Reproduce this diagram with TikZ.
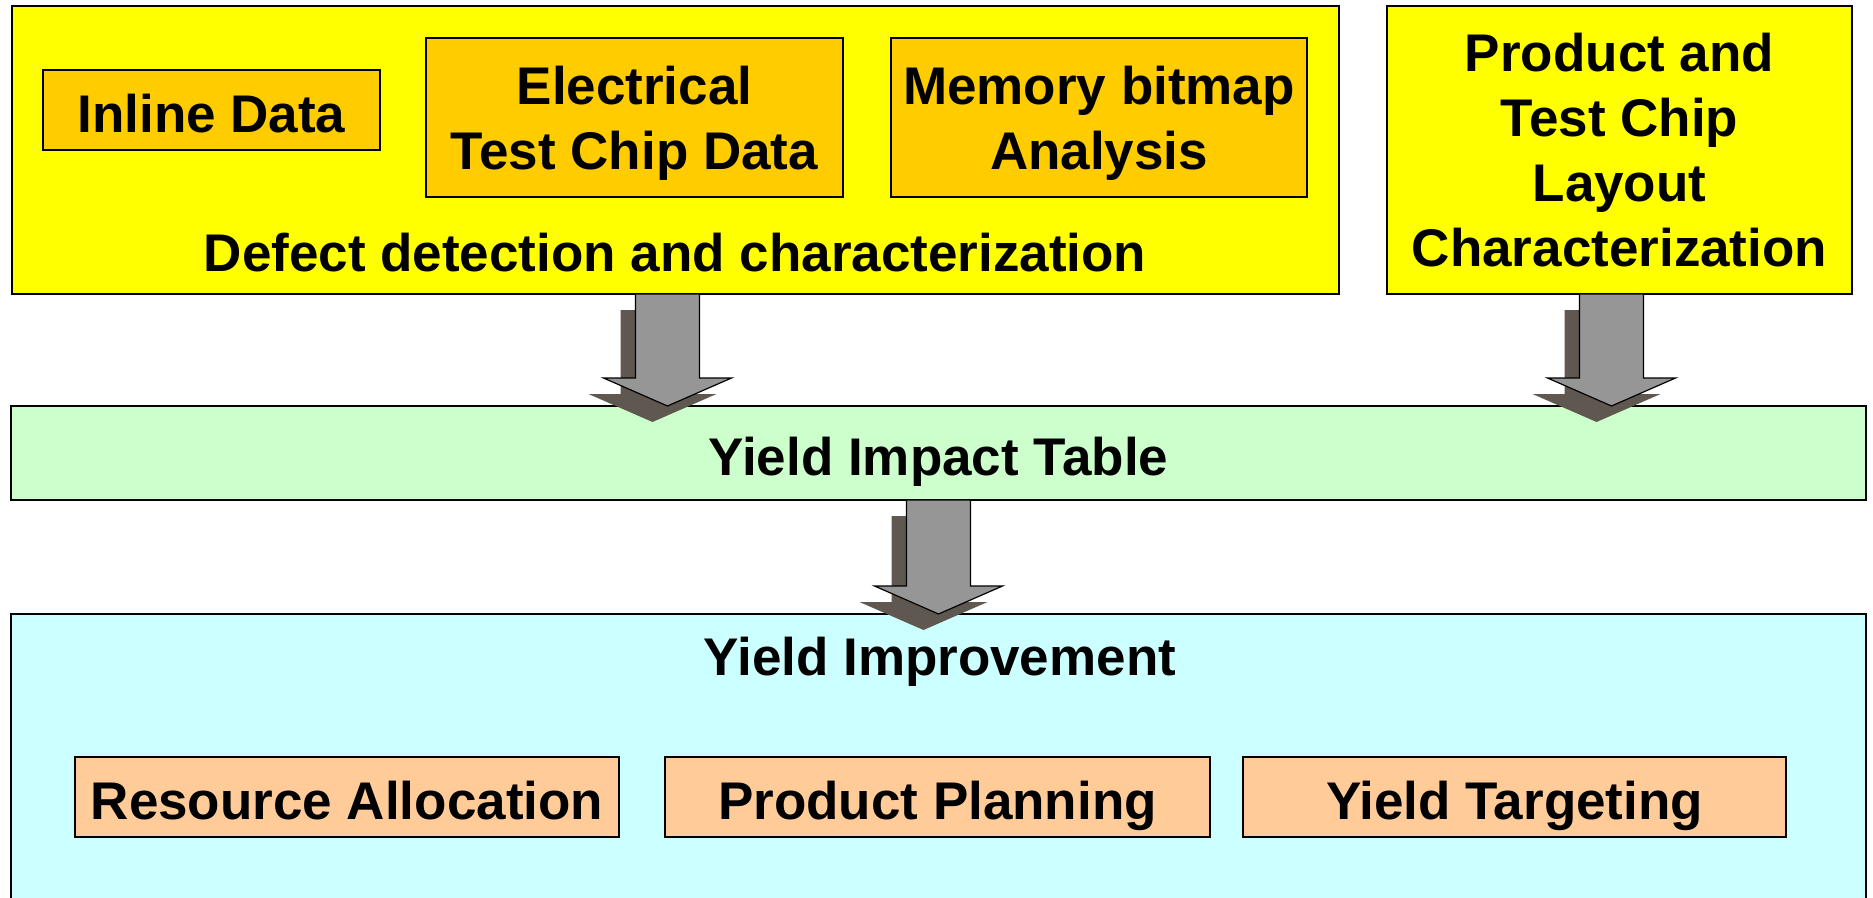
\documentclass[tikz,border=0pt]{standalone}
\usepackage{fontspec}
\setmainfont{Liberation Sans}
\usetikzlibrary{positioning,calc}
\definecolor{panelyellow}{RGB}{255,255,0}
\definecolor{dataorange}{RGB}{255,204,0}
\definecolor{impactgreen}{RGB}{204,255,204}
\definecolor{improvecyan}{RGB}{204,255,255}
\definecolor{taskpeach}{RGB}{255,204,153}
\definecolor{arrowgray}{RGB}{150,150,150}
\definecolor{arrowshade}{RGB}{95,88,80}
% block arrow with shadow, from the bottom of one box to the top of the next
\newcommand{\bigarrow}[2]{%
\fill [arrowshade] let \p1=(#1), \p2=(#2) in (\x1-47pt,\y1-16pt) -- (\x1-47pt,\y2+12pt) -- (\x1-79pt,\y2+12pt) -- (\x1-15pt,\y2-16pt) -- (\x1+49pt,\y2+12pt) -- (\x1+17pt,\y2+12pt) -- (\x1+17pt,\y1-16pt) -- cycle;
\draw [arrowbody] let \p1=(#1), \p2=(#2) in (\x1-32pt,\y1) -- (\x1-32pt,\y2+28pt) -- (\x1-64pt,\y2+28pt) -- (\x1,\y2) -- (\x1+64pt,\y2+28pt) -- (\x1+32pt,\y2+28pt) -- (\x1+32pt,\y1) -- cycle;}
\begin{document}
\begin{tikzpicture}
[x=1pt, y=-1pt, font=\fontsize{53}{65}\selectfont\bfseries,
box/.style={draw, line width=1.2pt, inner sep=0pt, outer sep=0pt, align=center},
oneline/.style={text height=44pt, text depth=0pt},
arrowbody/.style={fill=arrowgray, draw=black, line width=1.2pt, line join=miter}]
\useasboundingbox (0,0) rectangle (1873,897);
\clip (0,0) rectangle (1873,897);
% top panels
\node [box, fill=panelyellow, minimum width=1327pt, minimum height=288pt] (defect) at (675.5,150) {};
\node (defectlbl) at (675,253) {Defect detection and characterization};
\node [box, oneline, fill=dataorange, minimum width=337pt, minimum height=80pt] (inline) at (211.5,110) {Inline Data};
\node [box, fill=dataorange, minimum width=417pt, minimum height=159pt] (elec) at (634.5,117.5) {\rule{0pt}{50pt}Electrical\\Test Chip Data};
\node [box, fill=dataorange, minimum width=416pt, minimum height=159pt] (bitmap) at (1099,117.5) {\rule{0pt}{50pt}Memory bitmap\\Analysis};
\node [box, fill=panelyellow, minimum width=465pt, minimum height=288pt] (layout) at (1619.5,150) {Product and\\Test Chip\\Layout\\Characterization};
% middle
\node [box, oneline, fill=impactgreen, minimum width=1855pt, minimum height=94pt] (impact) at (938.5,453) {Yield Impact Table};
% bottom
\node [box, fill=improvecyan, minimum width=1855pt, minimum height=310pt] (improve) at (938.5,769) {};
\node (improvelbl) at (940,662) {Yield Improvement};
\node [box, oneline, fill=taskpeach, minimum width=544pt, minimum height=80pt] (resource) at (347,797) {Resource Allocation};
\node [box, oneline, fill=taskpeach, minimum width=545pt, minimum height=80pt] (planning) at (937.5,797) {Product Planning};
\node [box, oneline, fill=taskpeach, minimum width=543pt, minimum height=80pt] (targeting) at (1514.5,797) {Yield Targeting};
% arrows
\bigarrow{$(defect.south)+(-8,0)$}{$(defect.south |- impact.north)+(-8,0)$}
\bigarrow{$(layout.south)+(-8,0)$}{$(layout.south |- impact.north)+(-8,0)$}
\bigarrow{impact.south}{improve.north}
\end{tikzpicture}
\end{document}
